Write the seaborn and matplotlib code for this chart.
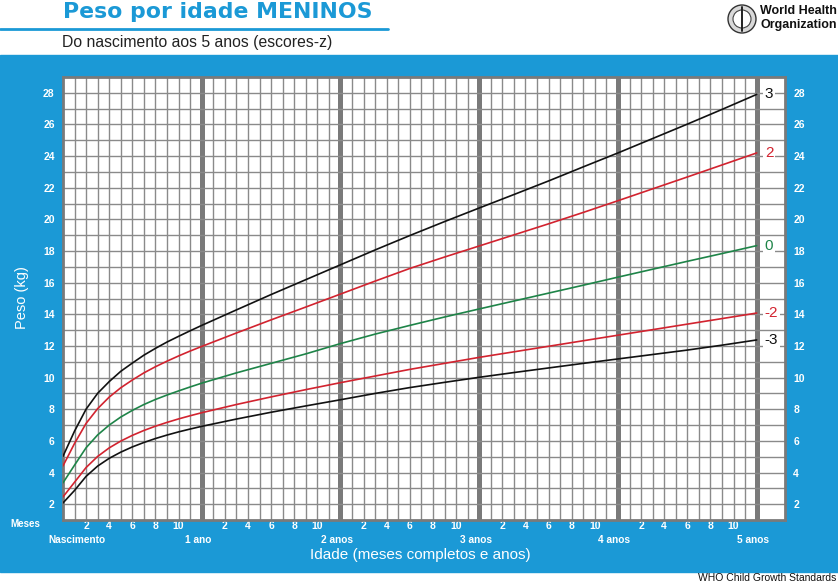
import numpy as np
import pandas as pd
import matplotlib
matplotlib.use("Agg")
import matplotlib.pyplot as plt
import seaborn as sns
from matplotlib.patches import Rectangle, Ellipse
from matplotlib.lines import Line2D
import matplotlib.transforms as mtransforms

# ---------------- data (WHO weight-for-age, boys, kg) ----------------
# monthly during the first year, then every 3 months
months = [0, 1, 2, 3, 4, 5, 6, 7, 8, 9, 10, 11, 12,
          15, 18, 21, 24, 27, 30, 33, 36, 39, 42, 45, 48, 51, 54, 57, 60]
sd_m3 = [2.08, 2.87, 3.76, 4.41, 4.90, 5.29, 5.62, 5.90, 6.15, 6.37, 6.57, 6.75, 6.92,
         7.38, 7.81, 8.21, 8.60, 9.00, 9.37, 9.70, 10.02, 10.32, 10.61, 10.90, 11.18,
         11.46, 11.74, 12.05, 12.38]
sd_m2 = [2.46, 3.39, 4.32, 5.02, 5.56, 5.99, 6.35, 6.66, 6.93, 7.17, 7.39, 7.59, 7.78,
         8.30, 8.78, 9.24, 9.68, 10.10, 10.52, 10.90, 11.28, 11.63, 11.98, 12.33, 12.68,
         13.03, 13.38, 13.73, 14.08]
sd_0 = [3.35, 4.47, 5.57, 6.38, 7.00, 7.51, 7.93, 8.30, 8.62, 8.90, 9.16, 9.41, 9.65,
        10.30, 10.90, 11.50, 12.15, 12.75, 13.30, 13.83, 14.34, 14.84, 15.34, 15.84, 16.35,
        16.85, 17.35, 17.84, 18.34]
sd_p2 = [4.42, 5.84, 7.11, 8.04, 8.77, 9.36, 9.85, 10.30, 10.69, 11.04, 11.37, 11.68, 11.97,
         12.82, 13.65, 14.46, 15.28, 16.10, 16.90, 17.62, 18.32, 19.02, 19.72, 20.44, 21.18,
         21.93, 22.68, 23.44, 24.20]
sd_p3 = [5.03, 6.62, 8.01, 9.01, 9.75, 10.40, 10.92, 11.42, 11.85, 12.25, 12.61, 12.96, 13.30,
         14.28, 15.25, 16.19, 17.13, 18.07, 18.98, 19.86, 20.72, 21.57, 22.43, 23.32, 24.20,
         25.11, 26.02, 26.95, 27.90]
z_labels = ["3", "2", "0", "-2", "-3"]
series = [sd_p3, sd_p2, sd_0, sd_m2, sd_m3]

y_ticks = list(range(2, 29, 2))
year_labels = ["Nascimento", "1 ano", "2 anos", "3 anos", "4 anos", "5 anos"]
month_tick_labels = ["2", "4", "6", "8", "10"]

# ---------------- styling ----------------
BLUE = "#1b99d6"
GRID = "#8a8a8a"
BLACK = "#111111"
RED = "#d2232f"
GREEN = "#1e8448"
palette = {"3": BLACK, "2": RED, "0": GREEN, "-2": RED, "-3": BLACK}

sns.set_theme(style="white")
plt.rcParams["font.family"] = ["Liberation Sans", "DejaVu Sans"]

W, H = 838, 586
fig = plt.figure(figsize=(W / 100, H / 100), dpi=100)

def fx(px):
    return px / W

def fy(py):
    return 1 - py / H

# blue band (behind the axes)
fig.patches.append(Rectangle((0, fy(572)), 1, fy(55) - fy(572),
                             transform=fig.transFigure, color=BLUE, zorder=-5))
# title underline
fig.add_artist(Line2D([0, fx(388)], [fy(29), fy(29)], transform=fig.transFigure,
                      color=BLUE, lw=2))

fig.text(fx(63), fy(18), "Peso por idade MENINOS", fontsize=15.8, fontweight="bold",
         color=BLUE, va="baseline", ha="left", family=["DejaVu Sans"])
fig.text(fx(62), fy(42), "Do nascimento aos 5 anos (escores-z)", fontsize=11.3,
         color="#222222", va="center", ha="left")
fig.text(fx(836), fy(578), "WHO Child Growth Standards", fontsize=7.5,
         color="#111111", va="center", ha="right")

# WHO logo (simplified emblem + text)
cx, cy = fx(742), fy(19)
fig.add_artist(Ellipse((cx, cy), 2 * 14 / W, 2 * 14 / H, transform=fig.transFigure,
                       facecolor="#d9d9d9", edgecolor="#333333", lw=1.0))
fig.add_artist(Ellipse((cx, cy), 2 * 9 / W, 2 * 9 / H, transform=fig.transFigure,
                       facecolor="white", edgecolor="#444444", lw=0.8))
fig.add_artist(Line2D([cx, cx], [fy(7), fy(31)], transform=fig.transFigure,
                      color="#222222", lw=1.4))
fig.text(fx(760), fy(11), "World Health", fontsize=9, fontweight="bold",
         color="#111111", va="center", ha="left",
         family=["Liberation Sans Narrow", "Liberation Sans", "DejaVu Sans"])
fig.text(fx(760), fy(25), "Organization", fontsize=9, fontweight="bold",
         color="#111111", va="center", ha="left",
         family=["Liberation Sans Narrow", "Liberation Sans", "DejaVu Sans"])

# axes
ax = fig.add_axes([fx(63), fy(520), fx(785) - fx(63), fy(77) - fy(520)])
ax.set_zorder(2)
ax.set_facecolor("white")
XMAX = 62.45
ax.set_xlim(0, XMAX)
ax.set_ylim(1, 29)

# grid
for m in range(1, 61):
    if m % 12 == 0:
        ax.axvline(m, color="#7a7a7a", lw=3.6, zorder=1)
    else:
        ax.axvline(m, color=GRID, lw=1.0, zorder=1)
for k in range(2, 29):
    ax.axhline(k, color=GRID, lw=1.0, zorder=1)

# curves
df = pd.concat([pd.DataFrame({"mes": months, "peso": s, "z": z})
                for z, s in zip(z_labels, series)], ignore_index=True)
sns.lineplot(data=df, x="mes", y="peso", hue="z", palette=palette,
             hue_order=z_labels, legend=False, lw=1.2, ax=ax, zorder=3)

for z, s in zip(z_labels, series):
    ax.text(60.7, s[-1], z, color=palette[z], fontsize=11, ha="left", va="center",
            zorder=4, bbox=dict(facecolor="white", edgecolor="none", pad=1.0))

for sp in ax.spines.values():
    sp.set_color("#7a7a7a")
    sp.set_linewidth(2)

# y ticks left and right
ax.set_yticks(y_ticks)
ax.set_yticklabels([str(v) for v in y_ticks])
ax.tick_params(axis="y", length=0, pad=6, labelcolor="white", labelsize=7.5,
               left=True, right=False)
for lab in ax.get_yticklabels():
    lab.set_fontweight("bold")
ax2 = ax.secondary_yaxis("right")
ax2.set_yticks(y_ticks)
ax2.set_yticklabels([str(v) for v in y_ticks])
ax2.tick_params(length=0, pad=6, labelcolor="white", labelsize=7.5)
for lab in ax2.get_yticklabels():
    lab.set_fontweight("bold")
ax2.spines["right"].set_visible(False)

# x ticks
xt = [y * 12 + int(l) for y in range(5) for l in month_tick_labels]
ax.set_xticks(xt)
ax.set_xticklabels([month_tick_labels[i % 5] for i in range(len(xt))])
ax.tick_params(axis="x", length=0, pad=1, labelcolor="white", labelsize=7.5)
for lab in ax.get_xticklabels():
    lab.set_fontweight("bold")
ax.set_xlabel("")
ax.set_ylabel("")

trans = mtransforms.blended_transform_factory(ax.transData, fig.transFigure)
year_pos = [1.2, 11.7, 23.7, 35.7, 47.7, 59.7]
for xp, lab in zip(year_pos, year_labels):
    ax.text(xp, fy(540), lab, transform=trans, ha="center", va="center",
            color="white", fontsize=7.3, fontweight="bold", clip_on=False)

fig.text(fx(25), fy(524), "Meses", ha="center", va="center", color="white",
         fontsize=7, fontweight="bold")
fig.text(fx(420), fy(555), "Idade (meses completos e anos)", ha="center",
         va="center", color="white", fontsize=11)
fig.text(fx(22), fy(298), "Peso (kg)", ha="center", va="center", color="white",
         fontsize=10.5, rotation=90)

fig.savefig("out.png", dpi=100)
